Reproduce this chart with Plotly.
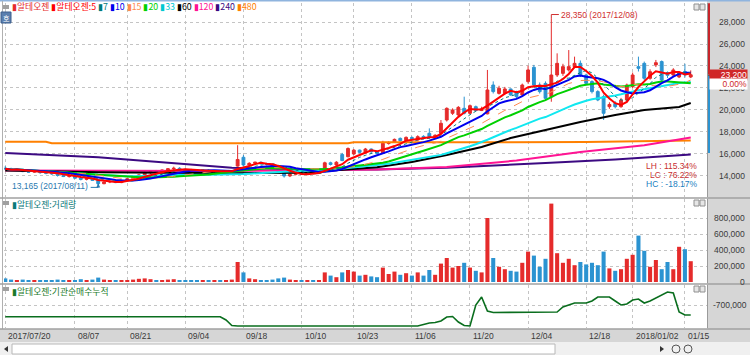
import plotly.graph_objects as go
import pandas as pd

W, H = 750, 355

dates = [
 "2017/07/20","2017/07/21","2017/07/24","2017/07/25","2017/07/26","2017/07/27","2017/07/28","2017/07/31",
 "2017/08/01","2017/08/02","2017/08/03","2017/08/04","2017/08/07","2017/08/08","2017/08/09","2017/08/10","2017/08/11",
 "2017/08/14","2017/08/16","2017/08/17","2017/08/18","2017/08/21","2017/08/22","2017/08/23","2017/08/24","2017/08/25",
 "2017/08/28","2017/08/29","2017/08/30","2017/08/31","2017/09/01","2017/09/04","2017/09/05","2017/09/06","2017/09/07",
 "2017/09/08","2017/09/11","2017/09/12","2017/09/13","2017/09/14","2017/09/15","2017/09/18","2017/09/19","2017/09/20",
 "2017/09/21","2017/09/22","2017/09/25","2017/09/26","2017/09/27","2017/09/28","2017/09/29","2017/10/10","2017/10/11",
 "2017/10/12","2017/10/13","2017/10/16","2017/10/17","2017/10/18","2017/10/19","2017/10/20","2017/10/23","2017/10/24",
 "2017/10/25","2017/10/26","2017/10/27","2017/10/30","2017/10/31","2017/11/01","2017/11/02","2017/11/03","2017/11/06",
 "2017/11/07","2017/11/08","2017/11/09","2017/11/10","2017/11/13","2017/11/14","2017/11/15","2017/11/16","2017/11/17",
 "2017/11/20","2017/11/21","2017/11/22","2017/11/23","2017/11/24","2017/11/27","2017/11/28","2017/11/29","2017/11/30",
 "2017/12/01","2017/12/04","2017/12/05","2017/12/06","2017/12/07","2017/12/08","2017/12/11","2017/12/12","2017/12/13",
 "2017/12/14","2017/12/15","2017/12/18","2017/12/19","2017/12/20","2017/12/21","2017/12/22","2017/12/26","2017/12/27",
 "2017/12/28","2018/01/02","2018/01/03","2018/01/04","2018/01/05","2018/01/08","2018/01/09","2018/01/10","2018/01/11",
 "2018/01/12","2018/01/15","2018/01/16"]

open_p = [
 14700,14650,14500,14600,14400,14350,14450,14300,14250,14200,
 14050,13950,14000,13800,13700,13750,13650,13300,13450,13500,
 13400,13600,13750,13900,14100,14300,14400,14350,14550,14650,
 14700,14600,14550,14500,14400,14500,14400,14450,14350,14400,
 14900,15700,15000,15150,15250,15100,15050,14800,14400,14000,
 14150,14200,14150,14300,14250,14500,15200,15000,15950,15750,
 16000,16350,16100,16450,16200,16060,16950,17050,17420,17210,
 17500,17270,17600,17880,17550,17880,19090,19700,19550,20150,
 19700,20300,19950,19650,22270,21510,21510,21910,21670,21360,
 22580,23880,22270,22420,21210,23180,23330,23640,23940,24240,
 23180,22580,21670,21210,20300,20600,20300,20910,22120,23940,
 24240,22880,24100,24400,23400,23180,23000,23500,23000]

high_p = [
 14900,14750,14650,14650,14500,14550,14500,14400,14350,14250,
 14150,14100,14050,13900,13850,13800,13700,13500,13600,13550,
 13650,13800,13950,14150,14400,14500,14550,14600,14700,14850,
 14800,14700,14650,14600,14550,14600,14500,14500,14450,14550,
 16800,15900,15250,15300,15300,15200,15100,14850,14450,14250,
 14300,14350,14350,14400,14500,15300,15300,15350,16100,16600,
 16450,16400,16550,16500,16300,17200,17150,17400,17500,17600,
 17600,17700,17700,18330,17800,19090,20240,20150,20350,21210,
 20500,20400,20300,23640,22600,22200,22100,21950,21750,22400,
 24030,24100,22500,22600,28350,25150,24200,25450,24850,24500,
 23300,22700,21800,21400,20700,20800,21100,22400,23400,24850,
 24400,23700,24550,24500,23500,23800,23500,24200,23600]

low_p = [
 14550,14450,14450,14350,14300,14300,14200,14150,14100,13950,
 13900,13850,13750,13600,13600,13550,13165,13250,13350,13350,
 13350,13550,13700,13850,14050,14200,14250,14300,14450,14550,
 14500,14450,14400,14350,14350,14350,14300,14300,14250,14350,
 14850,14900,14900,15000,15050,14950,14700,14300,13850,13900,
 14050,14100,14100,14150,14200,14450,14950,14900,15350,15700,
 15900,16050,16050,16100,15950,16000,16850,17000,17150,17150,
 17300,17200,17450,17500,17450,17800,18950,19550,19450,19600,
 19600,19850,19900,19600,21500,21400,21400,21300,21100,21300,
 22400,22100,21500,20910,20750,23000,23100,23500,23800,23000,
 22300,21500,20800,19090,20100,20150,20200,20800,22000,23500,
 22700,22750,23900,22600,22900,23000,22900,22950,22900]

close_p = [
 14650,14500,14600,14400,14350,14450,14300,14250,14200,14050,
 13950,14000,13800,13700,13750,13600,13300,13450,13500,13400,
 13600,13750,13900,14100,14300,14400,14350,14550,14650,14700,
 14600,14550,14500,14400,14500,14400,14450,14350,14400,14500,
 15500,15000,15150,15250,15100,15050,14800,14400,14000,14150,
 14200,14150,14300,14250,14450,15200,15050,15250,15400,16500,
 16350,16150,16450,16200,16050,16970,17050,17330,17210,17510,
 17400,17575,17500,17575,17700,18790,20150,20000,20240,19700,
 20390,19950,20100,21820,21670,21970,21910,21360,21210,22270,
 23640,22270,21670,21060,23180,24240,23940,23940,24240,23180,
 22420,21670,20910,19700,20500,20300,20900,22270,23180,23790,
 22880,23480,24300,22730,23150,23640,23400,23200,23200]

volume = [
 45000,30000,25000,30000,20000,18000,25000,20000,25000,30000,
 25000,20000,25000,35000,25000,30000,55000,30000,20000,18000,
 25000,25000,30000,40000,45000,35000,22000,25000,30000,35000,
 25000,20000,18000,15000,20000,25000,20000,18000,22000,30000,
 250000,120000,45000,35000,25000,22000,30000,45000,55000,30000,
 22000,18000,22000,18000,25000,120000,80000,60000,120000,150000,
 130000,80000,90000,70000,60000,180000,100000,130000,90000,110000,
 80000,120000,80000,150000,90000,230000,300000,180000,200000,240000,
 180000,140000,120000,800000,300000,190000,160000,140000,130000,240000,
 380000,330000,190000,290000,980000,360000,240000,290000,210000,250000,
 220000,240000,210000,380000,170000,140000,160000,290000,340000,580000,
 390000,190000,275000,160000,250000,160000,440000,410000,260000]

inst_cum = [
 -818000,-818000,-818000,-818000,-818000,-818000,-818000,-818000,-818000,-818000,
 -818000,-818000,-818000,-818000,-818000,-818000,-818000,-818000,-818000,-818000,
 -818000,-818000,-818000,-818000,-818000,-818000,-818000,-818000,-818000,-818000,
 -818000,-818000,-818000,-818000,-818000,-818000,-818000,-818000,-850000,-905000,
 -910000,-910000,-910000,-910000,-910000,-910000,-910000,-910000,-910000,-910000,
 -910000,-910000,-910000,-910000,-910000,-910000,-910000,-910000,-910000,-910000,
 -910000,-910000,-910000,-910000,-910000,-910000,-910000,-910000,-910000,-910000,
 -910000,-910000,-895000,-880000,-875000,-860000,-820000,-815000,-870000,-905000,
 -910000,-700000,-620000,-760000,-775000,-775000,-775000,-775000,-775000,-775000,
 -775000,-775000,-775000,-775000,-775000,-770000,-720000,-700000,-680000,-680000,
 -680000,-660000,-620000,-620000,-620000,-660000,-700000,-690000,-650000,-640000,
 -680000,-660000,-630000,-600000,-570000,-580000,-770000,-800000,-800000]

# long moving averages (bar index, value)
ma60_x = [0, 16, 39, 51, 64, 70, 76, 82, 87, 93, 99, 105, 110, 116, 118]
ma60_y = [14500, 14350, 14250, 14300, 14800, 15270, 15900, 16640, 17450, 18180, 18910, 19550, 20000, 20270, 20640]
ma120_x = [0, 39, 64, 76, 88, 99, 110, 118]
ma120_y = [14500, 14450, 14600, 14820, 15400, 16180, 16800, 17500]
ma240_x = [0, 16, 39, 51, 64, 76, 93, 105, 118]
ma240_y = [16090, 15700, 14750, 14600, 14600, 14750, 15180, 15500, 15950]
ma480_x = [0, 7, 8, 59, 60, 100, 118]
ma480_y = [17120, 17120, 16980, 16970, 17060, 17080, 17230]

tick_dates = ["2017/07/20","2017/08/07","2017/08/21","2017/09/04","2017/09/18","2017/10/10","2017/10/23",
              "2017/11/06","2017/11/20","2017/12/04","2017/12/18","2018/01/02","2018/01/15"]
tick_labels = ["2017/07/20","08/07","08/21","09/04","09/18","10/10","10/23",
               "11/06","11/20","12/04","12/18","2018/01/02","01/15"]
price_ticks = [14000, 16000, 18000, 20000, 22000, 24000, 26000, 28000]
vol_ticks = [0, 200000, 400000, 600000, 800000]
inst_ticks = [-700000]
range_bar_low = 16100

RED = "#e52b2b"
BLUE = "#2b93d1"
C5, C7, C10, C15, C20, C33 = "#ff0000", "#007a7a", "#0000ee", "#ff8a50", "#00d000", "#10e8f0"
C60, C120, C240, C480 = "#000000", "#ff1493", "#3c0a82", "#ff8000"
AXBG = "#d6d6d6"
NUMFONT = "Liberation Sans"
KRFONT = "Noto Sans CJK KR"
NS = 8.5

n = len(dates)
xs = list(range(n))
cs = pd.Series(close_p)
tick_idx = [dates.index(d) for d in tick_dates]

def ypx(p):
    return 1 - p / H

def xpx(p):
    return p / W

fig = go.Figure()

fig.add_trace(go.Candlestick(
    x=xs, open=open_p, high=high_p, low=low_p, close=close_p,
    increasing=dict(line=dict(color=RED, width=1), fillcolor=RED),
    decreasing=dict(line=dict(color=BLUE, width=1), fillcolor=BLUE),
    whiskerwidth=0, xaxis="x", yaxis="y", showlegend=False, hoverinfo="skip"))

for mx, my, col in [(ma480_x, ma480_y, C480), (ma240_x, ma240_y, C240),
                    (ma120_x, ma120_y, C120), (ma60_x, ma60_y, C60)]:
    fig.add_trace(go.Scatter(x=mx, y=my, mode="lines", line=dict(color=col, width=2),
                             xaxis="x", yaxis="y", showlegend=False, hoverinfo="skip"))

for per, col, wid, dash in [(33, C33, 2, "solid"), (20, C20, 2, "solid"), (15, C15, 1, "dash"),
                            (10, C10, 2, "solid"), (7, C7, 1, "dot"), (5, C5, 2, "solid")]:
    ma = cs.rolling(per, min_periods=1).mean()
    fig.add_trace(go.Scatter(x=xs, y=ma, mode="lines", line=dict(color=col, width=wid, dash=dash),
                             xaxis="x", yaxis="y", showlegend=False, hoverinfo="skip"))

vcol = [RED if c >= o else BLUE for o, c in zip(open_p, close_p)]
fig.add_trace(go.Bar(x=xs, y=volume, marker=dict(color=vcol, line=dict(width=0)),
                     xaxis="x2", yaxis="y2", showlegend=False, hoverinfo="skip"))

fig.add_trace(go.Scatter(x=xs, y=inst_cum, mode="lines", line=dict(color="#0a6e1e", width=1.6),
                         xaxis="x3", yaxis="y3", showlegend=False, hoverinfo="skip"))

i_hi = max(range(n), key=lambda i: high_p[i])
i_lo = min(range(n), key=lambda i: low_p[i])
hi, lo, last = high_p[i_hi], low_p[i_lo], close_p[-1]
prev = close_p[-2]

xdom = [xpx(4), xpx(707)]
xr = [-0.22, 120.8]
grid = dict(showgrid=True, gridcolor="#c4c4c4", griddash="dot", gridwidth=1)
xcommon = dict(domain=xdom, range=xr, tickvals=tick_idx, showticklabels=False, zeroline=False,
               ticks="", showline=False, **grid)

fig.update_layout(
    width=W, height=H, margin=dict(l=0, r=0, t=0, b=0),
    paper_bgcolor="white", plot_bgcolor="white", bargap=0.3, boxgap=0.3,
    xaxis=dict(anchor="y", rangeslider=dict(visible=False), **xcommon),
    xaxis2=dict(anchor="y2", matches="x", **xcommon),
    xaxis3=dict(anchor="y3", matches="x", **xcommon),
    yaxis=dict(domain=[ypx(197), ypx(3)], range=[12090, 29727], side="right", anchor="x",
               tickvals=price_ticks, showticklabels=False, zeroline=False, ticks="",
               showline=True, linecolor="#9a9a9a", **grid),
    yaxis2=dict(domain=[ypx(283), ypx(199)], range=[-12500, 1037500], side="right", anchor="x2",
                tickvals=vol_ticks, showticklabels=False, zeroline=False, ticks="",
                showline=True, linecolor="#9a9a9a", **grid),
    yaxis3=dict(domain=[ypx(328), ypx(285)], range=[-930000, -500000], side="right", anchor="x3",
                tickvals=inst_ticks, showticklabels=False, zeroline=False, ticks="",
                showline=True, linecolor="#9a9a9a", **grid),
)

shapes = []
shapes.append(dict(type="rect", xref="paper", yref="paper", x0=xpx(707), x1=1, y0=ypx(342), y1=1,
                   fillcolor=AXBG, line=dict(width=0), layer="below"))
shapes.append(dict(type="rect", xref="paper", yref="paper", x0=0, x1=1, y0=ypx(342), y1=ypx(329),
                   fillcolor=AXBG, line=dict(width=0), layer="below"))
shapes.append(dict(type="rect", xref="paper", yref="paper", x0=0, x1=1, y0=0, y1=ypx(342),
                   fillcolor="#f0f0f0", line=dict(width=0), layer="below"))
shapes.append(dict(type="rect", xref="paper", yref="paper", x0=xpx(12), x1=xpx(555), y0=ypx(354), y1=ypx(344),
                   fillcolor="white", line=dict(color="#b8b8b8", width=1), layer="below"))
shapes.append(dict(type="line", xref="paper", yref="paper", x0=0, x1=1, y0=ypx(0.5), y1=ypx(0.5),
                   line=dict(color="#8fb4de", width=2)))
shapes.append(dict(type="line", xref="paper", yref="paper", x0=xpx(2.5), x1=xpx(2.5), y0=ypx(329), y1=ypx(1),
                   line=dict(color="#b0b0b0", width=1)))
for yp in [198, 284, 329]:
    shapes.append(dict(type="line", xref="paper", yref="paper", x0=0, x1=1, y0=ypx(yp), y1=ypx(yp),
                       line=dict(color="#a0a0a0", width=1.5)))
for yp in [4, 200, 286]:
    for xp in [694, 700]:
        shapes.append(dict(type="rect", xref="paper", yref="paper", x0=xpx(xp), x1=xpx(xp + 5),
                           y0=ypx(yp + 6), y1=ypx(yp), fillcolor="#e6e6e6", line=dict(color="#909090", width=1)))
    shapes.append(dict(type="rect", xref="paper", yref="paper", x0=xpx(3), x1=xpx(9),
                       y0=ypx(yp + 5), y1=ypx(yp + 1), fillcolor="#a0a0a0", line=dict(width=0)))
shapes.append(dict(type="rect", xref="paper", yref="paper", x0=xpx(1), x1=xpx(11), y0=ypx(23), y1=ypx(12),
                   fillcolor="#5b7fae", line=dict(color="#3d5f8c", width=1)))
shapes.append(dict(type="line", xref="paper", yref="y", x0=xpx(709), x1=xpx(709), y0=last, y1=29700,
                   line=dict(color="#c8242a", width=2)))
shapes.append(dict(type="line", xref="paper", yref="y", x0=xpx(709), x1=xpx(709), y0=range_bar_low, y1=last,
                   line=dict(color="#2b93d1", width=2)))
shapes.append(dict(type="path", xref="x", yref="y",
                   path=f"M {i_hi},{hi} L {i_hi},{hi + 330} L {i_hi + 1.3},{hi + 330}",
                   line=dict(color="#d03030", width=1)))
shapes.append(dict(type="path", xref="x", yref="y",
                   path=f"M {i_lo - 1.3},{lo - 200} L {i_lo},{lo - 200} L {i_lo},{lo + 150}",
                   line=dict(color="#2a7ab0", width=1)))
# scroll buttons (drawn as small triangles)
shapes.append(dict(type="path", xref="paper", yref="paper",
                   path=f"M {xpx(8)},{ypx(346)} L {xpx(4)},{ypx(349)} L {xpx(8)},{ypx(352)} Z",
                   fillcolor="#333", line=dict(width=0)))
shapes.append(dict(type="path", xref="paper", yref="paper",
                   path=f"M {xpx(660)},{ypx(346)} L {xpx(664)},{ypx(349)} L {xpx(660)},{ypx(352)} Z",
                   fillcolor="#333", line=dict(width=0)))
for cx in [676, 688]:
    shapes.append(dict(type="circle", xref="paper", yref="paper", x0=xpx(cx - 4), x1=xpx(cx + 4),
                       y0=ypx(353), y1=ypx(345), line=dict(color="#555", width=1)))
fig.update_layout(shapes=shapes)

ann = []
axfont = dict(family=NUMFONT, size=NS, color="#3a3a3a")
for v in price_ticks:
    ann.append(dict(xref="paper", yref="y", x=xpx(747), y=v, text=f"{v:,}", showarrow=False,
                    xanchor="right", yanchor="middle", font=axfont))
for v in vol_ticks:
    ann.append(dict(xref="paper", yref="y2", x=xpx(747), y=v, text=f"{v:,}", showarrow=False,
                    xanchor="right", yanchor="middle", font=axfont))
for v in inst_ticks:
    ann.append(dict(xref="paper", yref="y3", x=xpx(749), y=v, text=f"{v:,}", showarrow=False,
                    xanchor="right", yanchor="middle", font=axfont))
for i, t in zip(tick_idx, tick_labels):
    ann.append(dict(xref="x3", yref="paper", x=i, y=ypx(336), text=t, showarrow=False,
                    xanchor="left", yanchor="middle", xshift=1, font=axfont))
ann.append(dict(xref="paper", yref="y", x=xpx(748), y=last, text=f"{last:,}", showarrow=False,
                xanchor="right", yanchor="middle", width=37, align="right", bgcolor="#d02828",
                borderpad=0, font=dict(family=NUMFONT, size=NS, color="white")))
chg = (last - prev) / prev * 100
ann.append(dict(xref="paper", yref="y", x=xpx(748), y=last, yshift=-9, text=f"{chg:.2f}%", showarrow=False,
                xanchor="right", yanchor="middle", width=37, align="right", bgcolor="white",
                borderpad=0, font=dict(family=NUMFONT, size=NS, color="#d02828")))
ann.append(dict(xref="paper", yref="y", x=xpx(706), y=last, text="◀", showarrow=False, xanchor="left",
                yanchor="middle", font=dict(size=7, color="#d02828")))
ann.append(dict(xref="x", yref="y", x=i_hi + 1.4, y=hi + 330, text=f"{hi:,} ({dates[i_hi]})", showarrow=False,
                xanchor="left", yanchor="middle", font=dict(family=NUMFONT, size=NS, color="#d03030")))
ann.append(dict(xref="x", yref="y", x=i_lo - 1.4, y=lo - 100, text=f"{lo:,} ({dates[i_lo]})", showarrow=False,
                xanchor="right", yanchor="middle", font=dict(family=NUMFONT, size=NS, color="#2a7ab0")))
ann.append(dict(xref="x", yref="y", x=i_lo, y=lo + 150, ax=0, ay=3, showarrow=True, arrowhead=2,
                arrowsize=0.8, arrowwidth=1, arrowcolor="#2a7ab0", text=""))
lh = (hi - lo) / lo * 100
lc = (last - lo) / lo * 100
hc = (last - hi) / hi * 100
for k, (lab, val, col) in enumerate([("LH", lh, "#c83030"), ("LC", lc, "#c83030"), ("HC", hc, "#2080c0")]):
    ann.append(dict(xref="paper", yref="paper", x=xpx(699), y=ypx(166 + 9 * k), text=f"{lab} : {val:.2f}%",
                    showarrow=False, xanchor="right", yanchor="middle",
                    font=dict(family=NUMFONT, size=NS, color=col)))
parts = [("알테오젠", RED), ("알테오젠:5", C5), ("7", C7), ("10", C10), ("15", C15), ("20", C20), ("33", "#00c8d0"),
         ("60", C60), ("120", C120), ("240", C240), ("480", C480)]
legend_txt = " ".join(f"<span style='color:{c}'>▮{t}</span>" for t, c in parts)
ann.append(dict(xref="paper", yref="paper", x=xpx(10), y=ypx(7), text=legend_txt, showarrow=False,
                xanchor="left", yanchor="middle", font=dict(family=KRFONT, size=8.8)))
ann.append(dict(xref="paper", yref="paper", x=xpx(10), y=ypx(204), text="▮알테오젠:거래량", showarrow=False,
                xanchor="left", yanchor="middle", font=dict(family=KRFONT, size=8.8, color="#0a7a7a")))
ann.append(dict(xref="paper", yref="paper", x=xpx(10), y=ypx(291), text="▮알테오젠:기관순매수누적", showarrow=False,
                xanchor="left", yanchor="middle", font=dict(family=KRFONT, size=8.8, color="#1a7a2a")))
ann.append(dict(xref="paper", yref="paper", x=xpx(6), y=ypx(17.5), text="호", showarrow=False,
                xanchor="center", yanchor="middle", font=dict(family=KRFONT, size=7, color="white")))
fig.update_layout(annotations=ann)

fig.write_html("out.html", config={"displayModeBar": False},
               post_script="document.body.style.margin='0px';document.body.style.overflow='hidden';")
